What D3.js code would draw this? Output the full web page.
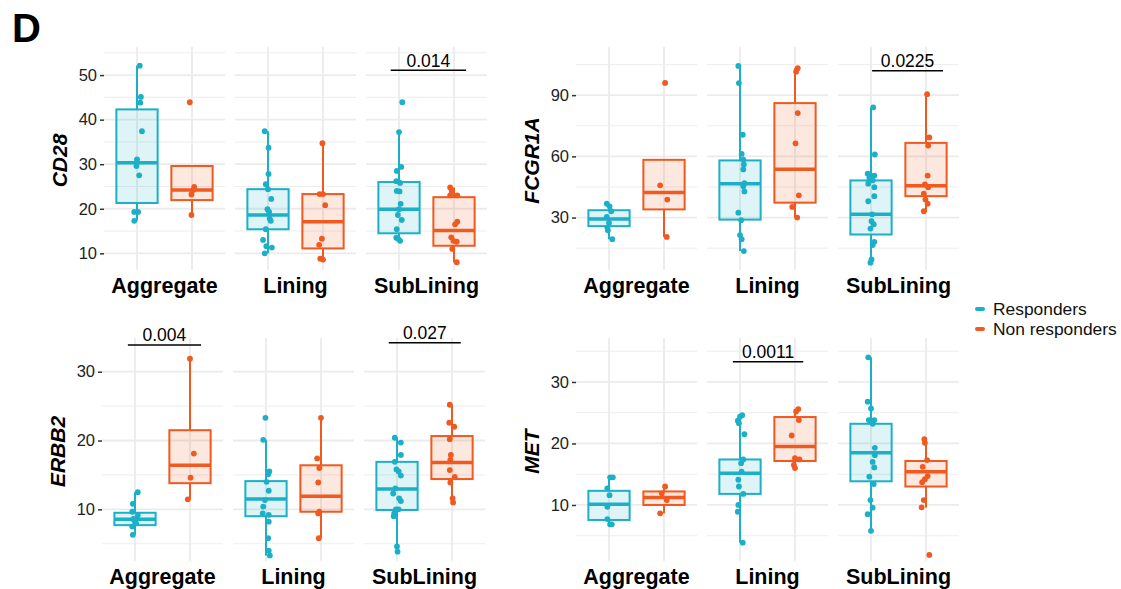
<!DOCTYPE html>
<html>
<head>
<meta charset="utf-8">
<script src="https://cdn.jsdelivr.net/npm/d3@7"></script>
<style>
  body { margin: 0; background: #fff; }
  text { font-family: "Liberation Sans", Arial, Helvetica, sans-serif; }
</style>
</head>
<body>
<div id="chart"></div>
<script>
// categories
const regions = ['Aggregate', 'Lining', 'SubLining'];
const groupKeys = ['R', 'NR'];
const groupNames = ['Responders', 'Non responders'];
const genes = ['CD28', 'FCGR1A', 'ERBB2', 'MET'];

// point values, order: AggR, AggNR, LinR, LinNR, SubR, SubNR
const cd28Values = [
    [52.1, 45.1, 43.8, 37.4, 31.1, 30.4, 29.6, 27.5, 19.3, 19.3, 17.3],
    [43.9, 24.9, 24.2, 23.2, 18.6],
    [37.4, 33.7, 27.8, 25.5, 24.4, 22.2, 19.9, 19.3, 17.8, 17.3, 15.4, 13, 11.6, 11.3, 10],
    [34.7, 23.3, 23.3, 20.8, 13.3, 11.9, 8.8, 8.6],
    [43.9, 37.2, 29.4, 28.5, 26.2, 25.8, 24, 23.9, 21.1, 19.9, 18.6, 17.5, 15.4, 13.5, 13.2, 12.8],
    [24.8, 24, 23, 23, 17.1, 16.5, 13.6, 12.8, 12.6, 11, 8]
];
const fcgr1aValues = [
    [36.8, 35.5, 33.1, 30.3, 27.4, 25.1, 23.8, 19.4],
    [96, 45.8, 38.8, 20.5],
    [104.3, 95.9, 70.6, 61.2, 58.4, 56, 53.6, 46.9, 45.4, 42.8, 32.4, 28.7, 21.4, 19.4, 13.6],
    [103.2, 101.5, 81.2, 66.4, 40.9, 35.2, 30],
    [84, 60.9, 51.5, 50.6, 50.6, 49.5, 48.2, 46.6, 44.9, 40.5, 38, 31.6, 28.2, 26.7, 24.6, 18.1, 16.5, 9.5, 7.9],
    [90.5, 69.3, 65.3, 50.6, 46.2, 44.9, 41.7, 38.8, 36.8, 33.1]
];
const erbb2Values = [
    [12.5, 10.8, 9.65, 9.1, 8.6, 8.2, 7.97, 7.5, 6.3],
    [31.9, 18.1, 14.6, 11.45],
    [23.3, 20.1, 15.5, 15.1, 14, 12.7, 11.35, 10.4, 9.4, 9.2, 8.2, 5.8, 4, 3.3],
    [23.3, 17.4, 16, 13.9, 9.65, 9.4, 5.8],
    [20.4, 19.7, 17.9, 16.9, 15.8, 15.5, 14.9, 13.05, 12.3, 11.6, 11.2, 10, 10, 9.4, 9, 4.6, 3.84],
    [25.2, 22.6, 22, 20.2, 17.9, 17.2, 15.7, 14.7, 13.9, 11.6, 11]
];
const metValues = [
    [14.5, 14.5, 12.7, 11.6, 9.7, 7.7, 6.86, 6.86],
    [13, 11.9, 10.8, 8.65],
    [24.6, 24.35, 23.7, 23.3, 21.5, 17.4, 16.8, 15.4, 14.1, 13, 11.8, 10, 8.9, 3.87],
    [25.6, 25.2, 23.8, 21.3, 17.6, 17.4, 16.5, 16],
    [34, 26.8, 25.7, 23.8, 23.8, 23.2, 19.3, 18.1, 17, 16.1, 14.6, 13.4, 10.8, 9.56, 8.5, 5.8],
    [20.7, 20.1, 17.3, 16.2, 14.7, 14.2, 13.7, 10.8, 9.6, 1.87]
];

// horizontal jitter of each point, in category units
const cd28Jitter = [
    [0.05, 0.07, 0.06, 0.09, 0, 0, -0.01, 0.04, -0.05, 0.02, -0.05],
    [-0.04, 0.04, 0.02, -0.01, -0.01],
    [-0.06, 0.01, 0.01, -0.04, 0, 0.06, -0.01, 0.02, 0.03, 0.05, -0.04, -0.09, -0.03, 0.07, -0.06],
    [-0.01, -0.06, 0, 0.04, -0.02, -0.07, -0.05, 0],
    [0.06, 0, 0.04, -0.04, -0.05, 0.02, -0.04, 0.01, 0.03, 0, -0.02, 0.05, -0.04, -0.05, -0.01, 0.02],
    [-0.07, -0.04, -0.07, 0.06, 0.06, 0.02, -0.05, -0.01, 0.05, -0.03, 0.05]
];
const fcgr1aJitter = [
    [-0.04, 0.01, 0.04, -0.04, 0, -0.03, -0.02, 0.06],
    [0.02, -0.07, 0.06, 0.05],
    [-0.03, -0.02, 0.05, 0.03, 0.06, 0.07, 0.06, 0.08, 0.06, 0.08, -0.03, 0.02, 0, 0.03, 0.07],
    [0.05, 0.02, 0.05, 0.01, 0.07, -0.05, 0.04],
    [0.04, 0.07, -0.06, -0.01, 0.06, -0.03, 0.03, -0.05, 0.06, 0.06, -0.05, 0.02, 0.01, 0.05, -0.01, 0.06, 0.03, 0.01, -0.01],
    [0.02, 0.06, 0.04, 0.03, -0.02, 0.04, -0.04, -0.01, 0.03, -0.04]
];
const erbb2Jitter = [
    [0.05, -0.04, -0.05, 0.05, -0.03, 0, 0.02, -0.05, -0.04],
    [0, 0.07, 0.01, -0.04],
    [-0.01, -0.05, 0.06, 0.04, 0.01, 0.05, -0.02, -0.05, -0.06, 0.05, 0.05, 0.04, 0.05, 0.07],
    [0, -0.07, -0.03, -0.05, -0.03, -0.05, -0.04],
    [-0.04, 0.07, 0.07, -0.04, -0.01, 0.03, 0.07, -0.03, -0.07, 0.04, 0.07, 0.03, -0.02, -0.05, -0.06, 0, 0.01],
    [-0.04, -0.05, 0.04, -0.04, -0.02, -0.03, -0.04, 0.05, -0.03, 0.01, 0.02]
];
const metJitter = [
    [0.02, 0.07, -0.03, 0.01, -0.03, -0.03, 0.02, 0.05],
    [0.02, -0.04, 0.05, -0.07],
    [0.04, 0, -0.04, -0.02, 0.08, 0.06, 0.02, 0.03, -0.03, -0.02, 0.06, -0.03, -0.04, 0.05],
    [0.06, 0.02, 0.07, -0.06, 0, 0.08, -0.02, 0],
    [-0.05, -0.06, 0, -0.04, 0.06, 0.03, 0.07, 0.07, 0.03, 0.06, -0.03, 0.05, -0.01, 0.03, -0.06, 0],
    [-0.03, -0.02, 0.02, -0.06, 0.03, -0.02, -0.07, -0.04, -0.08, 0.06]
];

// box stats: [lower whisker, q1, median, q3, upper whisker]
const cd28Boxes = [
    [17.3, 21.3, 30.3, 42.3, 52.1], [18.6, 21.95, 24.2, 29.6, 29.6],
    [10, 15.4, 18.6, 24.4, 37.4], [8.65, 11.1, 17.1, 23.3, 34.7],
    [12.8, 14.5, 19.9, 26, 37.2], [8, 11.7, 15.1, 22.6, 24.8]
];
const fcgr1aBoxes = [
    [19.4, 25.8, 29.3, 33.6, 36.8], [20.5, 34, 42.3, 58.3, 58.3],
    [13.6, 29, 46.6, 58, 104.3], [30, 37.3, 53.7, 86.1, 103.2],
    [7.9, 21.7, 31.6, 48.2, 84], [32.7, 40.5, 45.6, 66.6, 90.5]
];
const erbb2Boxes = [
    [6.3, 7.7, 8.55, 9.5, 12.5], [11.45, 13.8, 16.4, 21.5, 31.9],
    [3.3, 9.0, 11.5, 14.1, 20.1], [5.8, 9.65, 11.9, 16.4, 23.3],
    [3.84, 9.9, 12.95, 16.9, 20.4], [11, 14.4, 16.8, 20.65, 25.2]
];
const metBoxes = [
    [6.86, 7.56, 10.1, 12.3, 14.5], [8.65, 10, 11.2, 12.2, 13],
    [3.87, 11.8, 15.15, 17.4, 24.6], [16, 17.15, 19.5, 24.3, 25.6],
    [5.8, 13.85, 18.5, 23.2, 34], [9.6, 13, 15.4, 17.15, 20.7]
];

// axes
const yDomains = [[6.26, 56.3], [4.3, 113.6], [2.49, 34.9], [0.89, 37.15]];
const yTicks = [[10, 20, 30, 40, 50], [30, 60, 90], [10, 20, 30], [10, 20, 30]];
const yMinor = [[15, 25, 35, 45, 55], [15, 45, 75, 105], [5, 15, 25], [5, 15, 25, 35]];

// p-value annotations
const statGene = ['CD28', 'FCGR1A', 'ERBB2', 'ERBB2', 'MET'];
const statRegion = ['SubLining', 'SubLining', 'Aggregate', 'SubLining', 'Lining'];
const statLabel = ['0.014', '0.0225', '0.004', '0.027', '0.0011'];
const statY = [51.1, 101.9, 33.9, 34.2, 33.3];
const statFrom = [-0.15, 0.02, -0.13, -0.15, -0.13];
const statTo = [0.22, 0.31, 0.2, 0.16, 0.15];

const allValues = [cd28Values, fcgr1aValues, erbb2Values, metValues];
const allJitter = [cd28Jitter, fcgr1aJitter, erbb2Jitter, metJitter];
const allBoxes = [cd28Boxes, fcgr1aBoxes, erbb2Boxes, metBoxes];

const groupColor = d3.scaleOrdinal().domain(groupKeys).range(['#1cafc8', '#f0591f']);

// layout
const width = 1121, height = 589;
const panelLeft = [104, 576, 102, 576];
const panelTop = [47, 47, 338, 338];
const panelBottom = [270, 270, 561, 561];
const facetWidth = 121, facetStep = 131;
const gridColor = '#ebebeb';

const svg = d3.select('#chart').append('svg')
    .attr('width', width)
    .attr('height', height);

svg.append('text')
    .attr('x', 12)
    .attr('y', 42)
    .style('font-size', '40px')
    .style('font-weight', 'bold')
    .text('D');

genes.forEach((gene, p) => drawPanel(gene, p));
addLegend();

function drawPanel(gene, p) {
    const g = svg.append('g').attr('class', 'panel-' + gene);
    const top = panelTop[p], bottom = panelBottom[p], left = panelLeft[p];
    const y = d3.scaleLinear().domain(yDomains[p]).range([bottom, top]);

    regions.forEach((region, ri) => {
        const fx = left + ri * facetStep;
        const x = d3.scalePoint().domain(groupKeys).range([fx, fx + facetWidth]).padding(0.6);
        const step = x.step();
        const boxW = 0.75 * step;

        // grid
        g.selectAll(null).data(yMinor[p]).join('line')
            .attr('x1', fx).attr('x2', fx + facetWidth)
            .attr('y1', d => y(d)).attr('y2', d => y(d))
            .attr('stroke', gridColor).attr('stroke-width', 0.9);
        g.selectAll(null).data(yTicks[p]).join('line')
            .attr('x1', fx).attr('x2', fx + facetWidth)
            .attr('y1', d => y(d)).attr('y2', d => y(d))
            .attr('stroke', gridColor).attr('stroke-width', 1.8);
        g.selectAll(null).data(groupKeys).join('line')
            .attr('x1', d => x(d)).attr('x2', d => x(d))
            .attr('y1', top).attr('y2', bottom)
            .attr('stroke', gridColor).attr('stroke-width', 1.8);

        // boxes
        groupKeys.forEach((key, gi) => {
            const idx = ri * 2 + gi;
            const b = allBoxes[p][idx];
            const cx = x(key);
            const col = groupColor(key);
            const bg = g.append('g');
            bg.append('line')
                .attr('x1', cx).attr('x2', cx)
                .attr('y1', y(b[3])).attr('y2', y(b[4]))
                .attr('stroke', col).attr('stroke-width', 2);
            bg.append('line')
                .attr('x1', cx).attr('x2', cx)
                .attr('y1', y(b[0])).attr('y2', y(b[1]))
                .attr('stroke', col).attr('stroke-width', 2);
            bg.append('rect')
                .attr('x', cx - boxW / 2).attr('width', boxW)
                .attr('y', y(b[3])).attr('height', y(b[1]) - y(b[3]))
                .attr('fill', col).attr('fill-opacity', 0.14)
                .attr('stroke', col).attr('stroke-width', 2);
            bg.append('line')
                .attr('x1', cx - boxW / 2).attr('x2', cx + boxW / 2)
                .attr('y1', y(b[2])).attr('y2', y(b[2]))
                .attr('stroke', col).attr('stroke-width', 3.5);

            // jittered points
            const vals = allValues[p][idx];
            const jit = allJitter[p][idx];
            bg.selectAll('circle').data(vals).join('circle')
                .attr('cx', (d, i) => cx + jit[i] * step)
                .attr('cy', d => y(d))
                .attr('r', 2.9)
                .attr('fill', col);
        });

        // facet label
        g.append('text')
            .attr('x', fx + facetWidth / 2)
            .attr('y', bottom + 22.5)
            .attr('text-anchor', 'middle')
            .style('font-size', '21.5px')
            .style('font-weight', 'bold')
            .attr('fill', '#000')
            .text(region);

        // p-value brackets
        statGene.forEach((sg, si) => {
            if (sg !== gene || statRegion[si] !== region) return;
            const x0 = x('R') + statFrom[si] * step;
            const x1 = x('NR') + statTo[si] * step;
            g.append('line')
                .attr('x1', x0).attr('x2', x1)
                .attr('y1', y(statY[si])).attr('y2', y(statY[si]))
                .attr('stroke', '#000').attr('stroke-width', 1.5);
            g.append('text')
                .attr('x', (x0 + x1) / 2)
                .attr('y', y(statY[si]) - 3.5)
                .attr('text-anchor', 'middle')
                .style('font-size', '17.5px')
                .attr('fill', '#000')
                .text(statLabel[si]);
        });
    });

    // y axis
    const axis = g.append('g')
        .attr('transform', `translate(${left},0)`)
        .call(d3.axisLeft(y).tickValues(yTicks[p]).tickSize(4).tickPadding(3));
    axis.select('.domain').remove();
    axis.selectAll('.tick line').attr('stroke', '#333').attr('stroke-width', 1.5);
    axis.selectAll('.tick text')
        .attr('fill', '#222')
        .style('font-size', '16.5px')
        .style('font-family', '"Liberation Sans", Arial, sans-serif');

    // y title
    g.append('text')
        .attr('transform', `translate(${left - 45},${(top + bottom) / 2 + 2}) rotate(-90)`)
        .attr('text-anchor', 'middle')
        .attr('dy', '0.36em')
        .style('font-size', '21px')
        .style('font-weight', 'bold')
        .style('font-style', 'italic')
        .text(gene);
}

function addLegend() {
    let ly = 309;
    groupKeys.forEach((key, i) => {
        svg.append('line')
            .attr('x1', 977).attr('x2', 983)
            .attr('y1', ly).attr('y2', ly)
            .attr('stroke', groupColor(key))
            .attr('stroke-width', 4)
            .attr('stroke-linecap', 'round');
        svg.append('text')
            .attr('x', 993)
            .attr('y', ly + 6)
            .style('font-size', '17.4px')
            .attr('fill', '#111')
            .text(groupNames[i]);
        ly += 20;
    });
}
</script>
</body>
</html>
